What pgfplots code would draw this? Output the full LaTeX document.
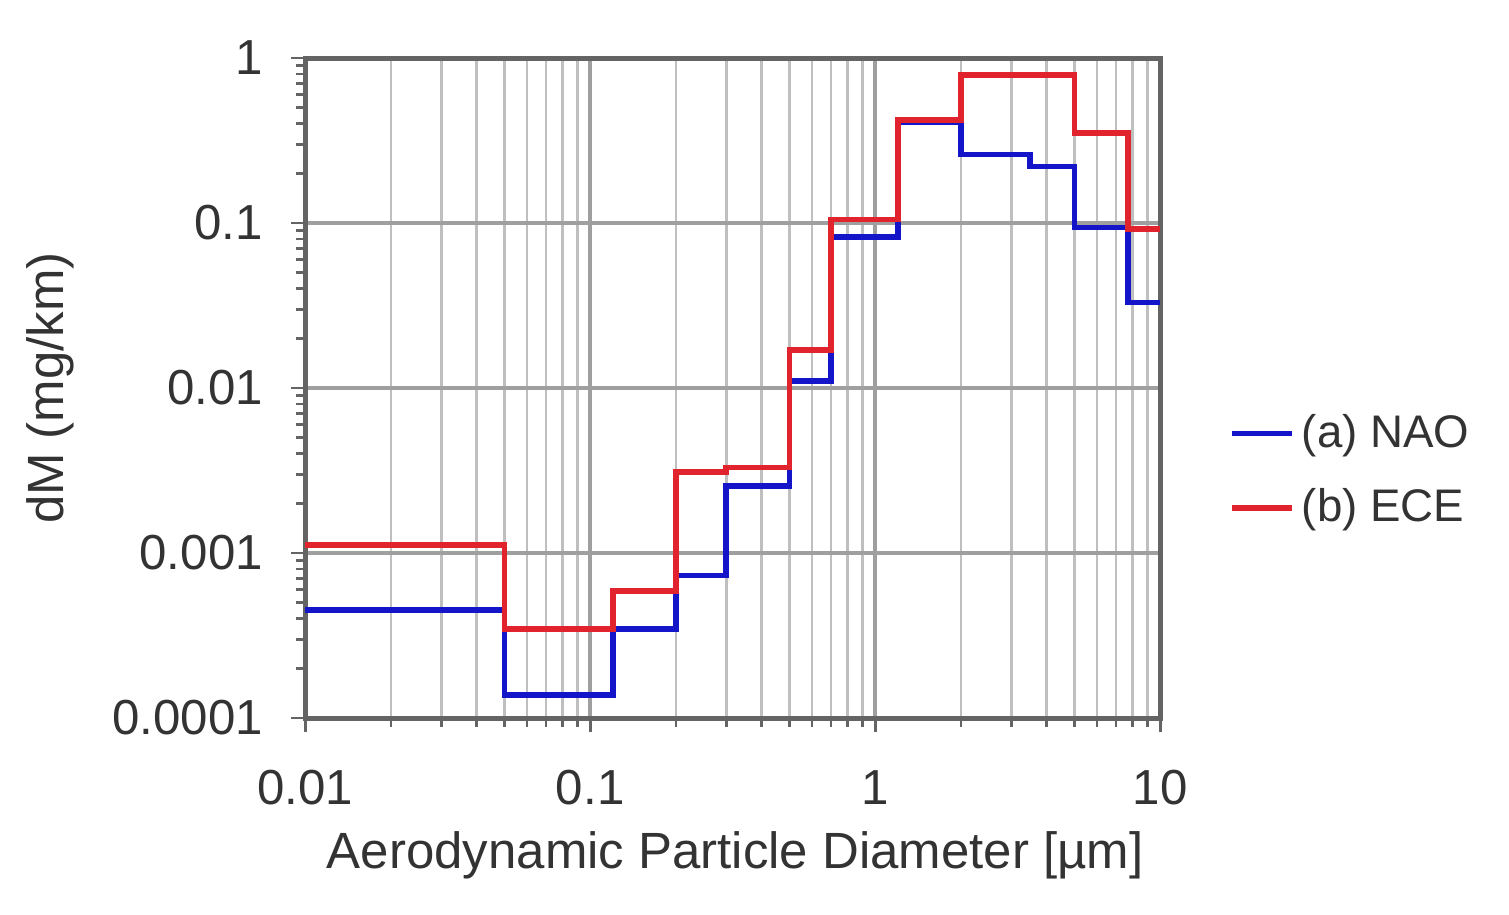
\documentclass[border=0pt]{standalone}
\usepackage{pgfplots}
\pgfplotsset{compat=1.18}
\usepackage{fontspec}
\setmainfont{Liberation Sans}
\definecolor{naoblue}{RGB}{20,20,200}
\definecolor{ecered}{RGB}{225,35,45}
\definecolor{frame}{RGB}{100,100,100}
\begin{document}
\begin{tikzpicture}
\begin{axis}[
    scale only axis,
    width=8.55cm, height=6.6cm,
    xmode=log, ymode=log,
    xmin=0.01, xmax=10, ymin=0.0001, ymax=1,
    font=\fontsize{13}{15}\selectfont,
    every tick label/.append style={text=black!80, font=\fontsize{14}{16}\selectfont},
    xtick={0.01,0.1,1,10},
    xticklabels={0.01,0.1,1,10},
    ytick={0.0001,0.001,0.01,0.1,1},
    yticklabels={0.0001,0.001,0.01,0.1,1},
    tick align=outside,
    xtick pos=bottom, ytick pos=left,
    major tick length=4pt, minor tick length=2.5pt,
    tick style={frame, line width=0.8pt},
    axis line style={frame, line width=1.4pt},
    xmajorgrids, ymajorgrids, xminorgrids,
    major grid style={gray!75, line width=1pt},
    minor x grid style={gray!50, line width=0.8pt},
    xticklabel style={yshift=-2.6mm},
    yticklabel style={xshift=-1.6mm},
    xlabel={Aerodynamic Particle Diameter [µm]},
    ylabel={dM (mg/km)},
    xlabel style={at={(rel axis cs:0.503,-0.208)}, anchor=center, text=black!80,
        font=\fontsize{14.5}{16}\selectfont},
    ylabel style={at={(rel axis cs:-0.298,0.5)}, anchor=center, rotate=0, text=black!80,
        font=\fontsize{14.5}{16}\selectfont},
    legend style={draw=none, fill=none, at={(rel axis cs:1.08,0.375)}, anchor=west,
        row sep=2.2mm, inner sep=0pt, font=\fontsize{13}{15}\selectfont, text=black!80},
    legend cell align=left,
    legend image code/.code={\draw[#1] (0cm,0cm) -- (0.6cm,0cm);},
    clip=false,
]
\addplot[const plot, naoblue, line width=1.6pt] coordinates {
    (0.01,4.5e-4)(0.05,1.38e-4)(0.12,3.45e-4)(0.2,7.3e-4)(0.3,2.55e-3)
    (0.5,0.011)(0.7,0.082)(1.2,0.41)(2,0.26)(3.5,0.22)(5,0.094)(7.7,0.033)(10,0.033)
};
\addlegendentry{(a) NAO}
\addplot[const plot, ecered, line width=1.6pt] coordinates {
    (0.01,1.12e-3)(0.05,3.45e-4)(0.12,5.9e-4)(0.2,3.1e-3)(0.3,3.3e-3)
    (0.5,0.017)(0.7,0.105)(1.2,0.42)(2,0.79)(5,0.35)(7.7,0.092)(10,0.092)
};
\addlegendentry{(b) ECE}
\path (rel axis cs:-0.357,-0.298) rectangle (rel axis cs:1.408,1.088);
\end{axis}
\end{tikzpicture}
\end{document}
